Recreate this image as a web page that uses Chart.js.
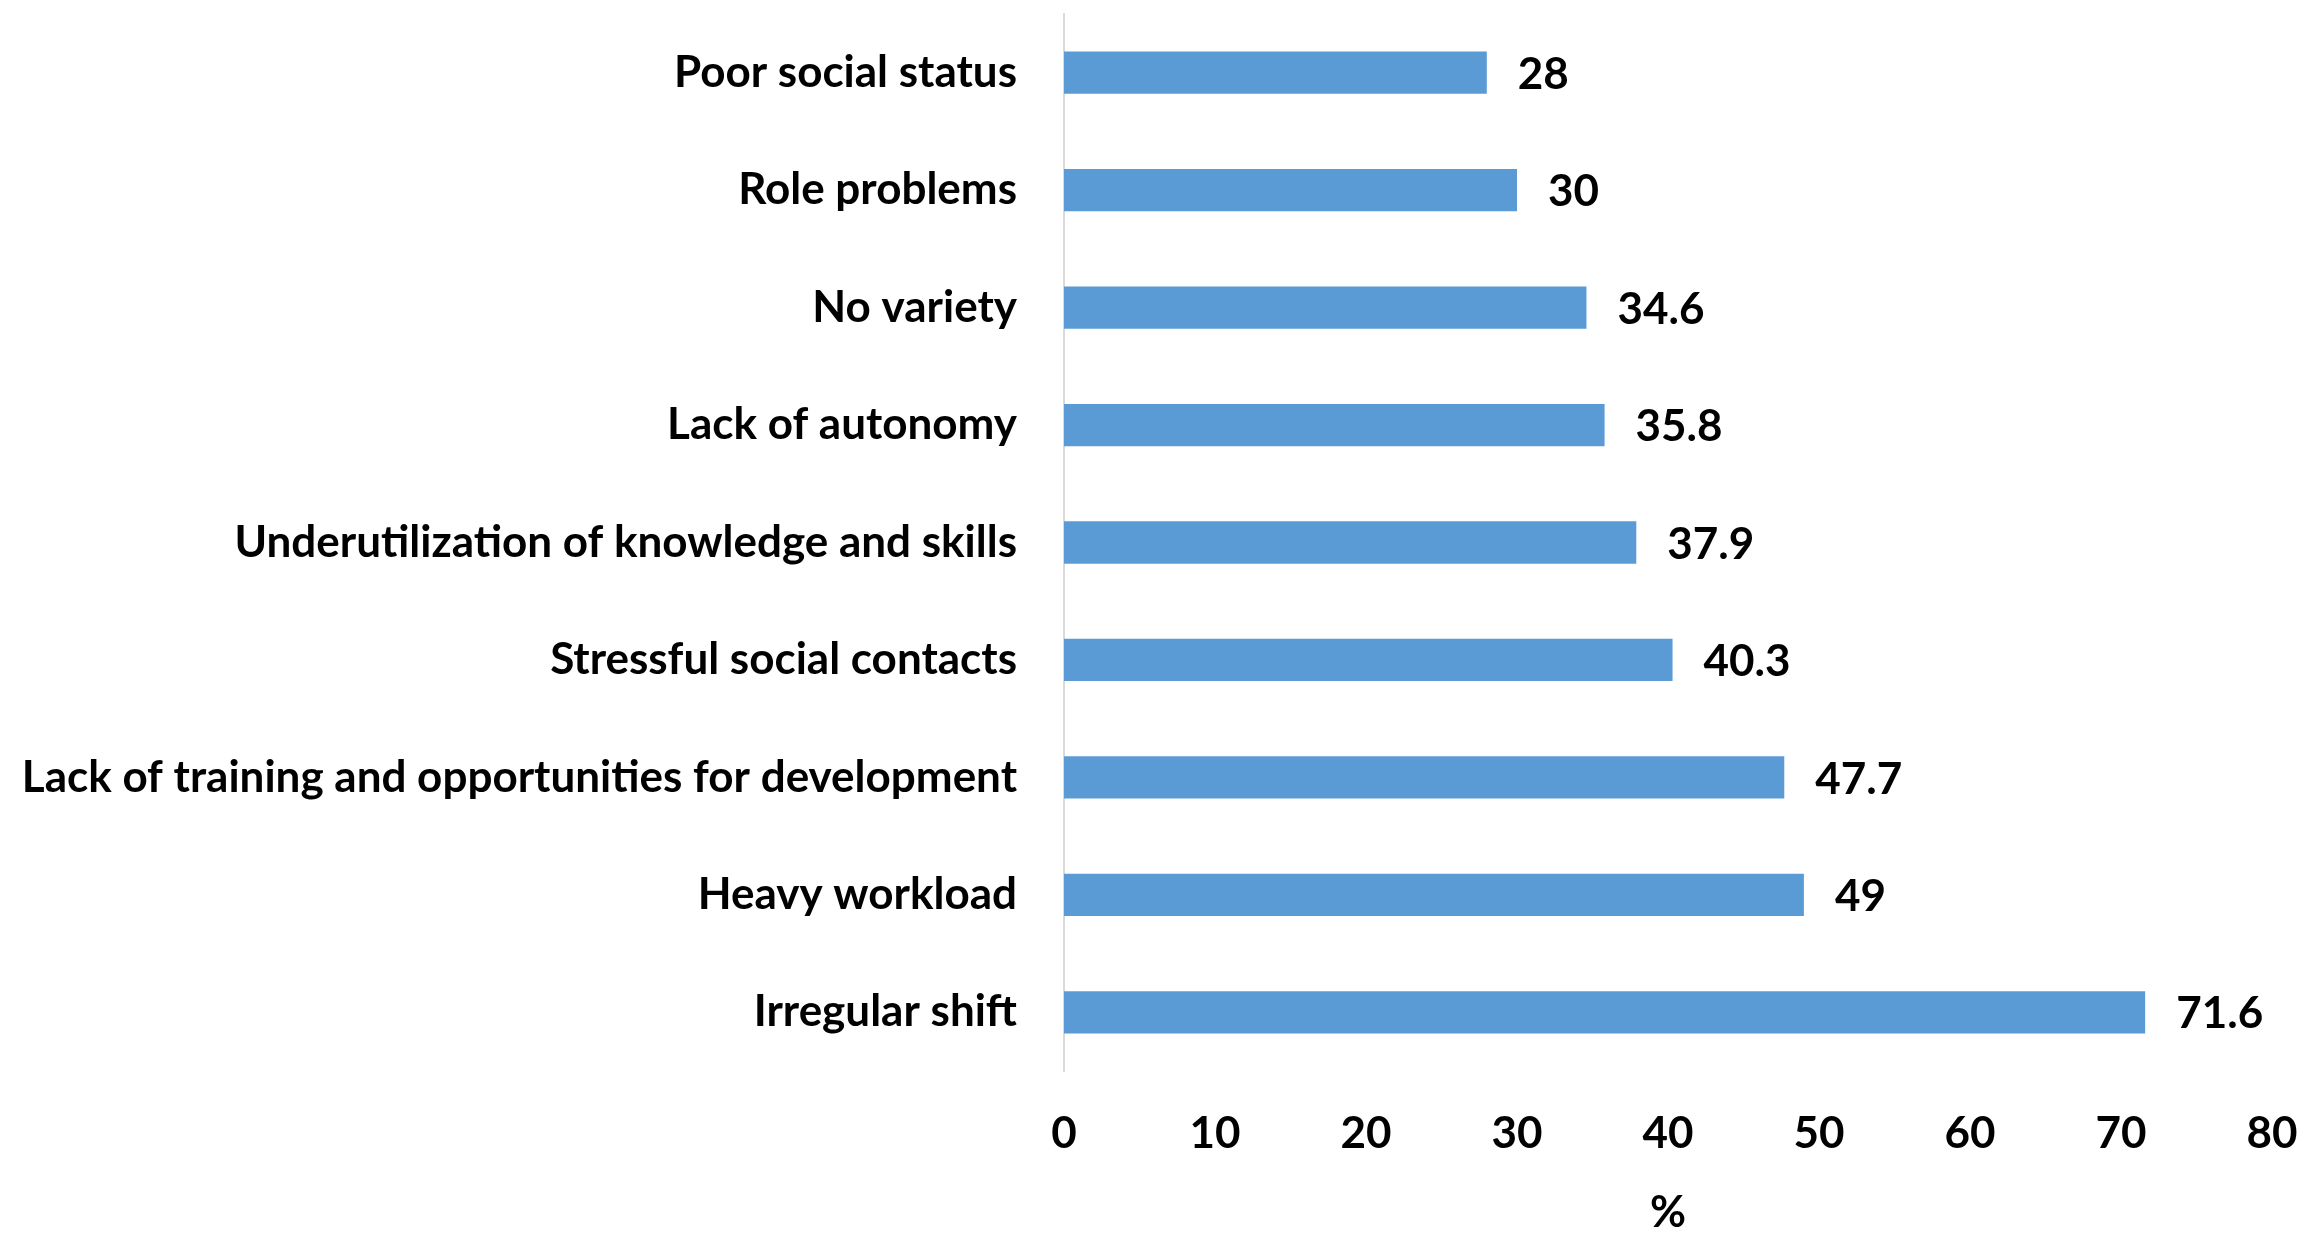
<!DOCTYPE html>
<html lang="en">
  <head>
    <meta charset="UTF-8" />
    <title>Job stressors</title>
    <script src="https://cdn.jsdelivr.net/npm/chart.js@4/dist/chart.umd.min.js"></script>
    <style>
      html, body { margin: 0; padding: 0; background: #fff; }
      #box { width: 2310px; height: 1233px; }
    </style>
  </head>
  <body>
    <div id="box"><canvas id="grafico"></canvas></div>
  </body>
</html>

<script>
  // dados
  const categorias = [
    "Poor social status",
    "Role problems",
    "No variety",
    "Lack of autonomy",
    "Underutilization of knowledge and skills",
    "Stressful social contacts",
    "Lack of training and opportunities for development",
    "Heavy workload",
    "Irregular shift",
  ];
  const valores = [28, 30, 34.6, 35.8, 37.9, 40.3, 47.7, 49, 71.6];
  const rotulos = ["28", "30", "34.6", "35.8", "37.9", "40.3", "47.7", "49", "71.6"];
  const ticksX = [0, 10, 20, 30, 40, 50, 60, 70, 80];

  const fonte = "Lato, 'Open Sans', sans-serif";
  const tamanho = 44;

  // escreve o valor no fim de cada barra
  const rotuloBarras = {
    id: "rotuloBarras",
    afterDatasetsDraw(chart) {
      const ctx = chart.ctx;
      const meta = chart.getDatasetMeta(0);
      ctx.save();
      ctx.font = "bold " + tamanho + "px " + fonte;
      ctx.fillStyle = "#000";
      ctx.textAlign = "left";
      ctx.textBaseline = "middle";
      meta.data.forEach((barra, i) => {
        ctx.fillText(rotulos[i], barra.x + 31, barra.y + 2);
      });
      ctx.restore();
    },
  };

  // tira o espaco extra que o chart.js reserva para os rotulos das pontas
  function semPadding(escala) {
    escala.paddingTop = 0;
    escala.paddingBottom = 0;
    escala.paddingLeft = 0;
    escala.paddingRight = 0;
  }

  const ctx = document.getElementById("grafico");

  new Chart(ctx, {
    type: "bar",
    data: {
      labels: categorias,
      datasets: [
        {
          data: valores,
          backgroundColor: "#5b9bd5",
          borderWidth: 0,
          categoryPercentage: 1,
          barPercentage: 0.36,
        },
      ],
    },
    options: {
      indexAxis: "y",
      responsive: true,
      maintainAspectRatio: false,
      animation: false,
      layout: { padding: { top: 14, right: 38, left: 0, bottom: 0 } },
      plugins: {
        legend: { display: false },
        tooltip: { enabled: false },
      },
      scales: {
        x: {
          min: 0,
          max: 80,
          afterBuildTicks: (escala) => {
            escala.ticks = ticksX.map((v) => ({ value: v }));
          },
          afterFit: (escala) => {
            escala.height = 162;
            semPadding(escala);
          },
          grid: { display: false, drawTicks: false },
          border: { display: false },
          ticks: {
            color: "#000",
            padding: 36,
            font: { family: fonte, size: tamanho, weight: "bold" },
          },
          title: {
            display: true,
            text: "%",
            color: "#000",
            padding: { top: 10, bottom: -6 },
            font: { family: fonte, size: tamanho, weight: "bold" },
          },
        },
        y: {
          afterFit: (escala) => {
            escala.width = 1064;
            semPadding(escala);
          },
          grid: { display: false, drawTicks: false },
          border: { display: true, color: "#d9d9d9", width: 2 },
          ticks: {
            color: "#000",
            padding: 47,
            font: { family: fonte, size: tamanho, weight: "bold" },
          },
        },
      },
    },
    plugins: [rotuloBarras],
  });
</script>
